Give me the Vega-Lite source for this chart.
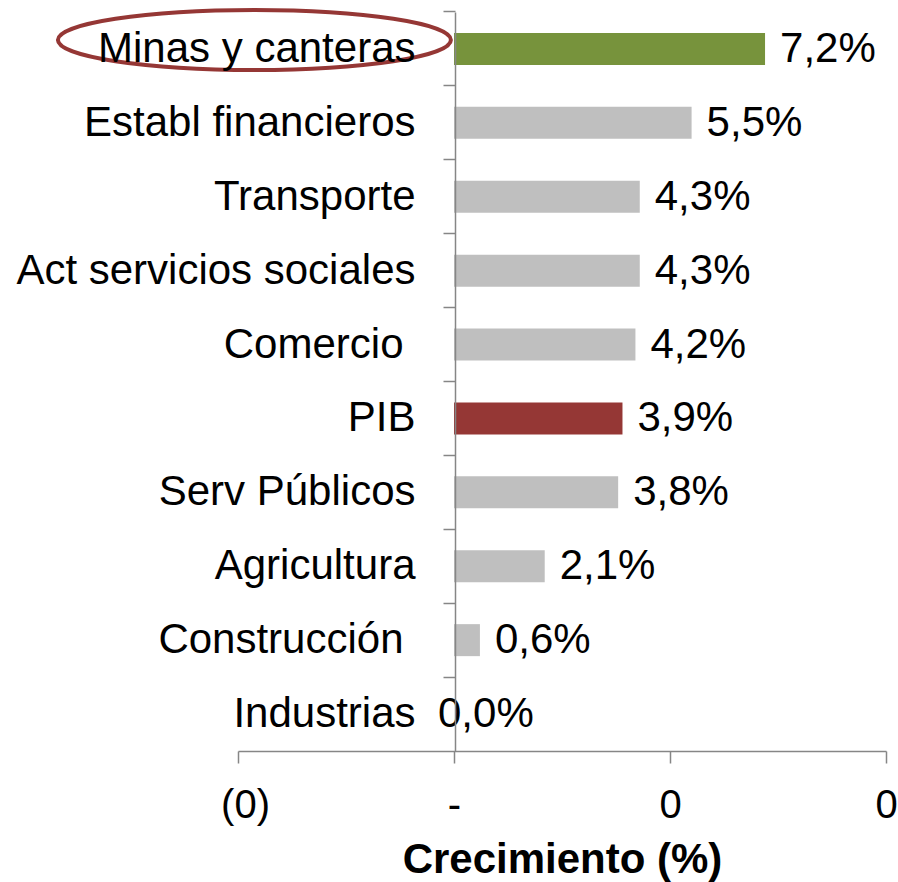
{
  "$schema": "https://vega.github.io/schema/vega-lite/v6.json",
  "width": 648,
  "height": 739,
  "autosize": "none",
  "padding": {"left": 238, "top": 12, "right": 12, "bottom": 131},
  "background": "white",
  "config": {"view": {"stroke": null}, "font": "Liberation Sans"},
  "data": {
    "values": [
      {"sector": "Minas y canteras", "v": 7.2, "tipo": "destacado"},
      {"sector": "Establ financieros", "v": 5.5, "tipo": "otro"},
      {"sector": "Transporte", "v": 4.3, "tipo": "otro"},
      {"sector": "Act servicios sociales", "v": 4.3, "tipo": "otro"},
      {"sector": "Comercio", "v": 4.2, "tipo": "otro"},
      {"sector": "PIB", "v": 3.9, "tipo": "total"},
      {"sector": "Serv Públicos", "v": 3.8, "tipo": "otro"},
      {"sector": "Agricultura", "v": 2.1, "tipo": "otro"},
      {"sector": "Construcción", "v": 0.6, "tipo": "otro"},
      {"sector": "Industrias", "v": 0.0, "tipo": "otro"}
    ]
  },
  "encoding": {
    "y": {
      "field": "sector",
      "type": "nominal",
      "sort": null,
      "scale": {
        "domain": ["Minas y canteras", "Establ financieros", "Transporte", "Act servicios sociales", "Comercio", "PIB", "Serv Públicos", "Agricultura", "Construcción", "Industrias"],
        "paddingInner": 0.567,
        "paddingOuter": 0.2835
      },
      "axis": {
        "title": null,
        "offset": -217,
        "bandPosition": -0.655,
        "tickSize": 12,
        "labelPadding": {"condition": {"test": "datum.value == 'Comercio' || datum.value == 'Construcción'", "value": 40}, "value": 28},
        "labelFontSize": 42,
        "labelColor": "black",
        "labelLimit": 0,
        "domainColor": "#868686",
        "tickColor": "#868686",
        "domainWidth": 1.5,
        "tickWidth": 1.5,
        "zindex": 1
      }
    }
  },
  "layer": [
    {
      "mark": {"type": "bar"},
      "encoding": {
        "x": {
          "field": "v",
          "type": "quantitative",
          "scale": {"domain": [-5, 10], "nice": false, "zero": false},
          "axis": {
            "values": [-5, 0, 5, 10],
            "labelExpr": "datum.value < 0 ? '(0)' : (datum.value == 0 ? '-' : '0')",
            "labelFlush": false,
            "labelOffset": {"condition": {"test": "datum.value < 0", "value": 7}, "value": 0},
            "grid": false,
            "title": "Crecimiento (%)",
            "titleFontSize": 42,
            "titleFontWeight": "bold",
            "titleColor": "black",
            "titlePadding": 14,
            "labelFontSize": 40,
            "labelColor": "black",
            "labelPadding": 22,
            "tickSize": 12,
            "domainColor": "#868686",
            "tickColor": "#868686",
            "domainWidth": 1.5,
            "tickWidth": 1.5
          }
        },
        "color": {
          "field": "tipo",
          "type": "nominal",
          "scale": {"domain": ["destacado", "total", "otro"], "range": ["#77933C", "#953735", "#BFBFBF"]},
          "legend": null
        }
      }
    },
    {
      "transform": [
        {"filter": "datum.v > 0"},
        {"calculate": "replace(format(datum.v, '.1f'), '.', ',') + '%'", "as": "etiqueta"}
      ],
      "mark": {"type": "text", "align": "left", "baseline": "middle", "dx": 15, "fontSize": 42, "color": "black"},
      "encoding": {
        "x": {"field": "v", "type": "quantitative"},
        "text": {"field": "etiqueta"}
      }
    },
    {
      "transform": [
        {"filter": "datum.v == 0"},
        {"calculate": "replace(format(datum.v, '.1f'), '.', ',') + '%'", "as": "etiqueta"}
      ],
      "mark": {"type": "text", "align": "left", "baseline": "middle", "dx": -16, "fontSize": 42, "color": "black"},
      "encoding": {
        "x": {"field": "v", "type": "quantitative"},
        "text": {"field": "etiqueta"}
      }
    },
    {
      "data": {"values": [{"sector": "Minas y canteras", "centro": -4.62}]},
      "mark": {
        "type": "point",
        "shape": "M-1,0C-1,-0.0843,-0.5523,-0.1527,0,-0.1527C0.5523,-0.1527,1,-0.0843,1,0C1,0.0843,0.5523,0.1527,0,0.1527C-0.5523,0.1527,-1,0.0843,-1,0Z",
        "size": 154449,
        "filled": false,
        "stroke": "#953735",
        "strokeWidth": 4,
        "opacity": 1
      },
      "encoding": {
        "x": {"field": "centro", "type": "quantitative"},
        "y": {"field": "sector", "type": "nominal", "bandPosition": 0.22}
      }
    }
  ]
}
